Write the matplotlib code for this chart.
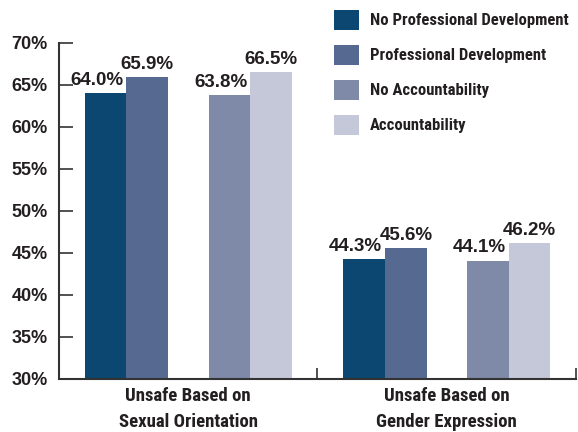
import matplotlib
matplotlib.use("Agg")
import matplotlib.pyplot as plt
from matplotlib.patches import Patch
from matplotlib.ticker import FixedLocator

# Data
categories = ["Unsafe Based on\nSexual Orientation", "Unsafe Based on\nGender Expression"]
series = ["No Professional Development", "Professional Development",
          "No Accountability", "Accountability"]
no_prof_dev = [64.0, 44.3]
prof_dev = [65.9, 45.6]
no_account = [63.8, 44.1]
account = [66.5, 46.2]
yticks = [30, 35, 40, 45, 50, 55, 60, 65, 70]

colors = ["#0b4770", "#566a91", "#7f89a8", "#c4c8d8"]
text_color = "#231f20"
# condensed bold for legend / category labels, plain bold for numbers
narrow = ["Roboto Condensed", "DejaVu Sans"]
regular = ["Liberation Sans", "DejaVu Sans"]

fig = plt.figure(figsize=(5.78, 4.32), dpi=100)
ax = fig.add_axes([0.102, 0.1227, 0.8945, 0.7778])

offsets = [-0.320, -0.158, 0.160, 0.320]
width = 0.162
values = [no_prof_dev, prof_dev, no_account, account]
x = list(range(len(categories)))

for i, (vals, off) in enumerate(zip(values, offsets)):
    xs = [xi + off for xi in x]
    ax.bar(xs, vals, width=width, color=colors[i], label=series[i], zorder=2)
    for xb, v in zip(xs, vals):
        if i in (0, 2):
            # left bar of each pair: label pushed left so it clears its neighbour
            ax.annotate(f"{v:.1f}%", (xb + width / 2, v), xytext=(-2, 3),
                        textcoords="offset points", ha="right", va="bottom",
                        fontsize=13.5, fontweight="bold", family=regular,
                        color=text_color)
        else:
            ax.annotate(f"{v:.1f}%", (xb, v), xytext=(0, 3),
                        textcoords="offset points", ha="center", va="bottom",
                        fontsize=13.5, fontweight="bold", family=regular,
                        color=text_color)

ax.set_xlim(-0.5, 1.5)
ax.set_ylim(30, 70)
ax.set_yticks(yticks)
ax.set_yticklabels([f"{t}%" for t in yticks], fontsize=13, fontweight="bold",
                   family=regular, color=text_color)
ax.tick_params(axis="y", direction="in", length=10, width=1.2, pad=8,
               color="#333333")

ax.set_xticks(x)
ax.set_xticklabels(categories, fontsize=13.5, fontweight="bold", family=narrow,
                   fontstretch="condensed", color=text_color, linespacing=1.55)
ax.tick_params(axis="x", which="major", length=0, pad=6)
ax.xaxis.set_minor_locator(FixedLocator([0.5, 1.5]))
ax.tick_params(axis="x", which="minor", direction="in", length=8, width=1.2,
               color="#333333")

for side in ("top", "right"):
    ax.spines[side].set_visible(False)
for side in ("left", "bottom"):
    ax.spines[side].set_linewidth(1.5)
    ax.spines[side].set_color("#333333")

handles = [Patch(facecolor=c, edgecolor="none") for c in colors]
leg = fig.legend(handles, series, loc="upper left", bbox_to_anchor=(0.578, 0.978),
                 frameon=False, borderpad=0, borderaxespad=0,
                 handlelength=1.5, handleheight=1.5, handletextpad=0.65,
                 labelspacing=0.88, prop={"family": narrow, "weight": "bold",
                                          "stretch": "condensed", "size": 12})
for t in leg.get_texts():
    t.set_color(text_color)

fig.savefig("out.png", dpi=100)
plt.close(fig)
